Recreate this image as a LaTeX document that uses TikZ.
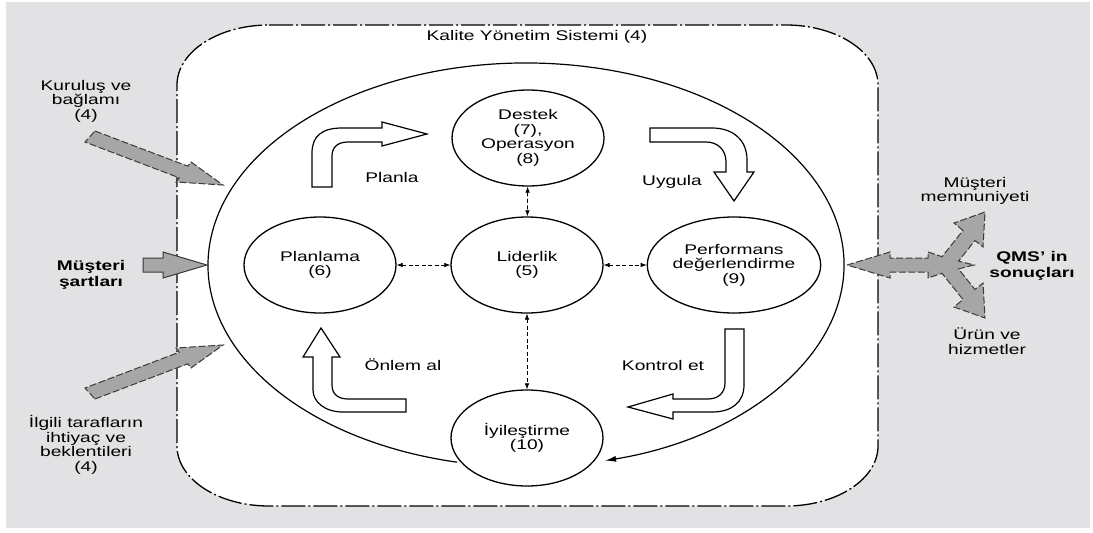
\documentclass[tikz,border=0pt]{standalone}
\usepackage{fontspec}
\setmainfont{Liberation Sans}[FakeStretch=1.37]
\usetikzlibrary{shapes.geometric,arrows.meta}
\definecolor{bggray}{HTML}{E2E2E4}
\definecolor{arrowgray}{HTML}{A6A6A6}
\definecolor{edgegray}{HTML}{3A3A3A}
\begin{document}
\begin{tikzpicture}[x=1pt,y=-1pt,
  txt/.style={font=\fontsize{14}{14.5}\selectfont, align=center, inner sep=0pt},
  btxt/.style={txt, font=\fontsize{14}{15.5}\selectfont\bfseries},
  proc/.style={ellipse, draw, line width=1.3pt, fill=white,
    minimum width=152pt, minimum height=96pt, inner sep=0pt,
    font=\fontsize{14}{14.5}\selectfont, align=center},
  link/.style={line width=0.7pt, dash pattern=on 4pt off 2.5pt,
    {Latex[length=6pt,width=4.5pt]}-{Latex[length=6pt,width=4.5pt]}},
  hollow/.style={draw, line width=1.2pt, fill=white, line join=miter},
  input/.style={fill=arrowgray, draw=edgegray, line width=1pt,
    dash pattern=on 7pt off 2.5pt, line join=miter},
  frame/.style={draw, line width=1.3pt, fill=white,
    dash pattern=on 24pt off 3pt on 2pt off 3pt},
]
\useasboundingbox (0,0) rectangle (1093,533);
\fill[white] (0,0) rectangle (1093,533);
\fill[bggray] (6,2) rectangle (1090,528);

% quality management system frame
\path[frame] (269,25) -- (786,25)
  arc[start angle=270, end angle=360, x radius=92, y radius=60]
  -- (878,446)
  arc[start angle=0, end angle=90, x radius=92, y radius=60]
  -- (269,506)
  arc[start angle=90, end angle=180, x radius=92, y radius=60]
  -- (177,85)
  arc[start angle=180, end angle=270, x radius=92, y radius=60]
  -- cycle;
\node[txt] (title) at (537,37) {Kalite Yönetim Sistemi (4)};

% PDCA cycle loop
\draw[line width=1.2pt, -{Latex[length=11pt,width=6pt]}] (457.2,462.2)
  arc[start angle=102.5, end angle=435.6, x radius=318, y radius=202];

% processes
\node[proc] (dest) at (528,138) {Destek\\(7),\\Operasyon\\(8)};
\node[proc] (plan) at (320,265) {Planlama\\(6)};
\node[proc] (lead) at (527,265) {Liderlik\\(5)};
\node[proc] (perf) at (734,265) {Performans\\değerlendirme\\(9)};
\node[proc] (impr) at (527,438) {İyileştirme\\(10)};

\draw[link] (plan) -- (lead);
\draw[link] (lead) -- (perf);
\draw[link] (dest) -- (lead);
\draw[link] (lead) -- (impr);

% cycle arrows
\path[hollow] (312,187) -- (312,153) .. controls (312,136) and (322,128) .. (342,128)
  -- (382,128) -- (382,122) -- (427,134) -- (382,146) -- (382,142) -- (348,142)
  .. controls (338,142) and (332,147) .. (332,156) -- (332,187) -- cycle;
\node[txt] (planla) at (392,177) {Planla};

\path[hollow] (650,128) -- (712,128) .. controls (733,128) and (747,140) .. (747,160)
  -- (747,172) -- (754,172) -- (734,201) -- (714,172) -- (726,172) -- (726,162)
  .. controls (726,150) and (718,142) .. (706,142) -- (650,142) -- cycle;
\node[txt] (uygula) at (672,182) {Uygula};

\path[hollow] (725,329) -- (744,329) -- (744,385) .. controls (744,402) and (732,412) .. (712,412)
  -- (673,412) -- (673,419) -- (628,407) -- (673,394) -- (673,399) -- (708,399)
  .. controls (718,399) and (725,393) .. (725,383) -- cycle;
\node[txt] (kontrol) at (663,365) {Kontrol et};

\path[hollow] (321,328) -- (340,357) -- (332,357) -- (332,385)
  .. controls (332,394) and (338,399) .. (348,399) -- (406,399) -- (406,412) -- (343,412)
  .. controls (325,412) and (313,402) .. (313,390) -- (313,357) -- (303,357) -- cycle;
\node[txt] (onlem) at (403,365) {Önlem al};

% inputs
\path[input] (95,131) -- (187.8,166.2) -- (191,162) -- (223,185) -- (176,182)
  -- (179.2,177.8) -- (85,142) -- cycle;
\node[txt] (ctx) at (86,101) {Kuruluş ve\\bağlamı\\(4)};

\path[fill=arrowgray, draw=edgegray, line width=1pt, line join=miter]
  (143,258) -- (163,258) -- (163,252) -- (207,265) -- (163,278) -- (163,272)
  -- (143,272) -- cycle;
\node[btxt] (req) at (91,275) {Müşteri\\şartları};

\path[input] (95,399) -- (187.8,363.8) -- (191,368) -- (223,345) -- (176,348)
  -- (179.2,352.2) -- (85,388) -- cycle;
\node[txt] (parties) at (86,445) {İlgili tarafların\\ihtiyaç ve\\beklentileri\\(4)};

% results
\path[input] (847,265) -- (890,252) -- (890,258) -- (928,258) -- (928,252)
  -- (942,256.7) -- (963,230.5) -- (954,223) -- (985,212) -- (983,247)
  -- (975,240.5) -- (958.5,261.1) -- (974,265) -- (958.5,268.9) -- (975,289.5)
  -- (983,283) -- (985,318) -- (954,307) -- (963,299.5) -- (942,273.3)
  -- (928,278) -- (928,272) -- (890,272) -- (890,278) -- cycle;
\node[txt] (sat) at (975,191) {Müşteri\\memnuniyeti};
\node[btxt] (res) at (1032,266) {QMS' in\\sonuçları};
\node[txt] (prod) at (987,341) {Ürün ve\\hizmetler};
\end{tikzpicture}
\end{document}
